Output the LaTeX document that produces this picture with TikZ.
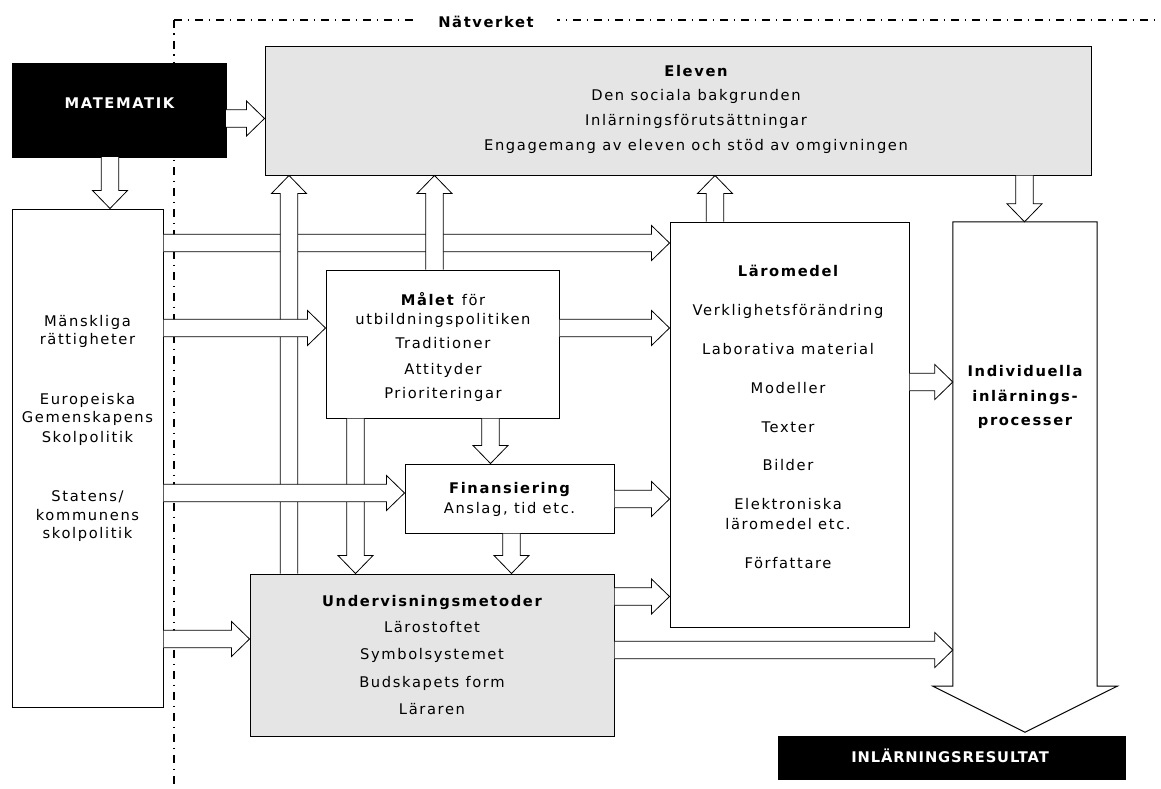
\documentclass[tikz,border=0pt]{standalone}
\usepackage{fontspec}
\setmainfont{DejaVu Sans}[LetterSpace=11]
\usetikzlibrary{calc}
\tikzset{
  box/.style={draw=black, line width=1pt, inner sep=0pt},
  graybox/.style={box, fill=black!10},
  blackbox/.style={draw=black, fill=black, inner sep=0pt},
  txt/.style={inner sep=0pt, text height=10.6pt, text depth=0pt, font=\fontsize{14.7}{18}\selectfont},
  btxt/.style={txt, font=\fontsize{14.7}{18}\selectfont\bfseries},
  wtxt/.style={btxt, text=white},
  blk/.style={draw=black, fill=white, line width=0.8pt, line join=miter},
  netline/.style={line width=1.4pt, dash pattern=on 8pt off 5.5pt on 1.5pt off 6pt},
}
\newcommand\rarrow[3]{%
  \draw[blk] let \p1=(#1.east), \p2=(#2.west) in
    (\x1,#3-8.75) -- (\x2-18pt,#3-8.75) -- (\x2-18pt,#3-17.5) -- (\x2,#3)
    -- (\x2-18pt,#3+17.5) -- (\x2-18pt,#3+8.75) -- (\x1,#3+8.75);}
\newcommand\darrow[3]{%
  \draw[blk] let \p1=(#1.south), \p2=(#2.north) in
    (#3-8.75,\y1) -- (#3-8.75,\y2+18pt) -- (#3-17.5,\y2+18pt) -- (#3,\y2)
    -- (#3+17.5,\y2+18pt) -- (#3+8.75,\y2+18pt) -- (#3+8.75,\y1);}
\newcommand\uarrow[3]{%
  \draw[blk] let \p1=(#1.north), \p2=(#2.south) in
    (#3-8.75,\y1) -- (#3-8.75,\y2-18pt) -- (#3-17.5,\y2-18pt) -- (#3,\y2)
    -- (#3+17.5,\y2-18pt) -- (#3+8.75,\y2-18pt) -- (#3+8.75,\y1);}
\begin{document}
\begin{tikzpicture}[x=1pt, y=-1pt]
\useasboundingbox (0,0) rectangle (1161,789);

% network boundary
\coordinate (corner) at (174,20);
\coordinate (netright) at (1161,20);
\coordinate (netbottom) at (174,789);
\draw[netline] (corner) -- (netright);
\draw[netline] (corner) -- (netbottom);
\node[btxt, fill=white, inner xsep=23pt, inner ysep=4pt] (net) at (486,22) {Nätverket};

% boxes
\node[blackbox, minimum width=214pt, minimum height=94pt] (mat) at (119,110) {};
\node[wtxt] (matt) at (119.5,103) {MATEMATIK};
\node[graybox, minimum width=826pt, minimum height=128pt] (elev) at (678,111) {};
\node[box, fill=white, minimum width=151pt, minimum height=498pt] (left) at (87.5,458) {};
\node[box, fill=white, minimum width=233pt, minimum height=148pt] (malet) at (442.5,344) {};
\node[box, fill=white, minimum width=209pt, minimum height=69pt] (fin) at (509.5,498.5) {};
\node[graybox, minimum width=364pt, minimum height=162pt] (und) at (432,655) {};
\node[box, fill=white, minimum width=239pt, minimum height=405pt] (laro) at (789.5,424.5) {};
\node[inner sep=0pt, minimum width=144pt, minimum height=464pt] (indiv) at (1025,454) {};
\draw[box, fill=white] (indiv.north west) -- (indiv.north east) -- (indiv.south east)
  -- ++(20,0) -- ($(indiv.south)+(0,46)$) -- ($(indiv.south west)+(-20,0)$)
  -- (indiv.south west) -- cycle;
\node[blackbox, minimum width=347pt, minimum height=43pt] (res) at (951.5,757.5) {};
\node[wtxt, font=\fontsize{14.7}{18}\selectfont\bfseries\addfontfeature{LetterSpace=6}] (rest) at (950,757) {INLÄRNINGSRESULTAT};

% texts
\node[btxt] (e1) at (696,71) {Eleven};
\node[txt] (e2) at (696,95) {Den sociala bakgrunden};
\node[txt] (e3) at (696,120) {Inlärningsförutsättningar};
\node[txt] (e4) at (696,145) {Engagemang av eleven och stöd av omgivningen};

\node[txt] (l1) at (87.5,321) {Mänskliga};
\node[txt] (l2) at (87.5,339) {rättigheter};
\node[txt] (l3) at (87.5,399) {Europeiska};
\node[txt] (l4) at (87.5,417) {Gemenskapens};
\node[txt] (l5) at (87.5,437) {Skolpolitik};
\node[txt] (l6) at (87.5,496) {Statens/};
\node[txt] (l7) at (87.5,515) {kommunens};
\node[txt] (l8) at (87.5,533) {skolpolitik};

\node[txt] (m1) at (443,300) {\textbf{Målet} för};
\node[txt] (m2) at (443,319) {utbildningspolitiken};
\node[txt] (m3) at (443,343) {Traditioner};
\node[txt] (m4) at (443,369) {Attityder};
\node[txt] (m5) at (443,393) {Prioriteringar};

\node[btxt] (f1) at (509.5,488) {Finansiering};
\node[txt] (f2) at (509.5,508) {Anslag, tid etc.};

\node[btxt] (u1) at (432,601) {Undervisningsmetoder};
\node[txt] (u2) at (432,627) {Lärostoftet};
\node[txt] (u3) at (432,654) {Symbolsystemet};
\node[txt] (u4) at (432,682) {Budskapets form};
\node[txt] (u5) at (432,709) {Läraren};

\node[btxt] (r1) at (788,271) {Läromedel};
\node[txt] (r2) at (788,310) {Verklighetsförändring};
\node[txt] (r3) at (788,349) {Laborativa material};
\node[txt] (r4) at (788,388) {Modeller};
\node[txt] (r5) at (788,427) {Texter};
\node[txt] (r6) at (788,465) {Bilder};
\node[txt] (r7) at (788,504) {Elektroniska};
\node[txt] (r8) at (788,524) {läromedel etc.};
\node[txt] (r9) at (788,563) {Författare};

\node[btxt] (i1) at (1025,371) {Individuella};
\node[btxt] (i2) at (1025,396) {inlärnings-};
\node[btxt] (i3) at (1025,420) {processer};

% arrows: lower layer
\rarrow{left}{laro}{243}
% vertical arrows
\uarrow{und}{elev}{289}
\uarrow{malet}{elev}{434.5}
\uarrow{laro}{elev}{715}
\darrow{mat}{left}{110}
\darrow{elev}{indiv}{1024.5}
\darrow{malet}{fin}{490.5}
\darrow{malet}{und}{355.5}
\darrow{fin}{und}{511.5}
% horizontal arrows on top
\rarrow{mat}{elev}{118.5}
\rarrow{left}{malet}{328}
\rarrow{malet}{laro}{328}
\rarrow{left}{fin}{493}
\rarrow{fin}{laro}{499}
\rarrow{left}{und}{639}
\rarrow{und}{laro}{596.5}
\rarrow{und}{indiv}{650}
\rarrow{laro}{indiv}{382}
\end{tikzpicture}
\end{document}
